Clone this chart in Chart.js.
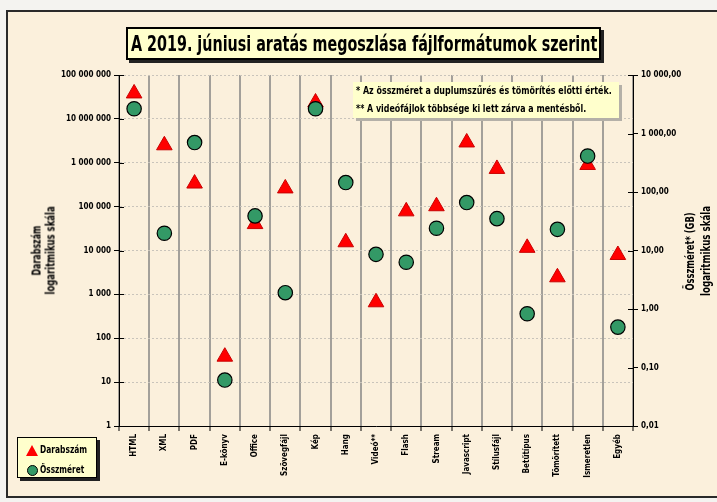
<!DOCTYPE html>
<html>
<head>
<meta charset="utf-8">
<script src="https://cdn.jsdelivr.net/npm/chart.js@4/dist/chart.umd.min.js"></script>
<style>
html,body{margin:0;padding:0;width:717px;height:502px;overflow:hidden;background:#f4f3f0;}
body{position:relative;font-family:'Liberation Sans Narrow','DejaVu Sans Condensed','Arial Narrow',sans-serif;font-weight:bold;color:#000;}
#frame{position:absolute;left:6px;top:10px;width:730px;height:488px;box-sizing:border-box;border:2px solid #2a2a2a;background:#fbf0dc;}
#wrap{position:absolute;left:0;top:0;width:717px;height:502px;}
.fit{white-space:nowrap;display:inline-block;transform-origin:0 50%;}
.fitc{white-space:nowrap;display:inline-block;transform-origin:50% 50%;}
#title{position:absolute;left:126px;top:27px;width:475px;height:33px;box-sizing:border-box;border:2px solid #000;background:#ffffcc;box-shadow:3px 3px 0 #222;font-size:22px;line-height:29px;padding-left:3px;overflow:visible;}
#notes{position:absolute;left:353px;top:82px;width:266px;height:36px;background:#ffffcc;box-shadow:3px 3px 0 #b4b0a8;font-size:11px;line-height:18px;padding-left:3px;box-sizing:border-box;}
#legend{position:absolute;left:17px;top:437px;width:80px;height:41px;box-sizing:border-box;border:1.5px solid #000;background:#ffffcc;box-shadow:3px 3px 0 #222;font-size:11px;}
.lrow{position:absolute;left:0;height:16px;line-height:16px;}
.tri{position:absolute;left:8px;top:3px;width:0;height:0;border-left:6px solid transparent;border-right:6px solid transparent;border-bottom:11px solid #ff0000;}
.cir{position:absolute;left:9px;top:3px;width:9px;height:9px;border:1px solid #000;border-radius:50%;background:#339966;}
.ltxt{position:absolute;left:22px;top:0;}
.atitle{position:absolute;width:200px;text-align:center;font-size:12px;transform:rotate(-90deg);}
</style>
</head>
<body>
<div id="frame"></div>
<div id="wrap"><canvas id="c" width="717" height="502"></canvas></div>
<div id="title"><span class="fit" data-w="466">A 2019. júniusi aratás megoszlása fájlformátumok szerint</span></div>
<div id="notes"><span class="fit" data-w="256">* Az összméret a duplumszűrés és tömörítés előtti érték.</span><br><span class="fit" data-w="230">** A videófájlok többsége ki lett zárva a mentésből.</span></div>
<div id="legend">
  <div class="lrow" style="top:4px;width:78px"><div class="tri"></div><span class="ltxt fit" data-w="47">Darabszám</span></div>
  <div class="lrow" style="top:24px;width:78px"><div class="cir"></div><span class="ltxt fit" data-w="44">Összméret</span></div>
</div>
<div class="atitle" id="lt" style="left:-56.5px;top:236.5px;line-height:13.5px;height:27px;"><span class="fitc" data-w="50">Darabszám</span><br><span class="fitc" data-w="88">logaritmikus skála</span></div>
<div class="atitle" id="rt" style="left:598px;top:235px;line-height:16px;height:32px;"><span class="fitc" data-w="78">Összméret* (GB)</span><br><span class="fitc" data-w="90">logaritmikus skála</span></div>
<script>
// ---- data ----
const categories = ['HTML','XML','PDF','E-könyv','Office','Szövegfájl','Kép','Hang','Videó**','Flash','Stream','Javascript','Stílusfájl','Betűtípus','Tömörített','Ismeretlen','Egyéb'];
const darabszam = [38000000, 2500000, 336000, 38, 40000, 260000, 23600000, 15400, 660, 78000, 102000, 2900000, 723000, 11500, 2450, 890000, 7900];
const osszmeretGB = [2650, 19.7, 700, 0.061, 39, 1.9, 2650, 145, 8.6, 6.3, 24, 66, 35, 0.83, 23, 412, 0.49];
const leftTickValues = [1, 10, 100, 1000, 10000, 100000, 1000000, 10000000, 100000000];
const leftTickLabels = ['1','10','100','1 000','10 000','100 000','1 000 000','10 000 000','100 000 000'];
const rightTickValues = [0.01, 0.1, 1, 10, 100, 1000, 10000];
const rightTickLabels = ['0,01','0,10','1,00','10,00','100,00','1 000,00','10 000,00'];

// fit texts
document.querySelectorAll('.fit, .fitc').forEach(el=>{
  const w = el.offsetWidth;
  const t = +el.dataset.w;
  if (w>0) el.style.transform = 'scaleX(' + (t/w) + ')';
});

const FONT = "'Liberation Sans Narrow','DejaVu Sans Condensed','Arial Narrow',sans-serif";

const innerTicks = {
  id: 'innerTicks',
  beforeDatasetsDraw(chart) {
    const {ctx, chartArea: a, scales} = chart;
    ctx.save();
    ctx.strokeStyle = '#000';
    ctx.lineWidth = 1;
    scales.y.ticks.forEach(t => {
      const y = Math.round(scales.y.getPixelForValue(t.value)) + 0.5;
      ctx.beginPath(); ctx.moveTo(a.left, y); ctx.lineTo(a.left + 5, y); ctx.stroke();
    });
    scales.y1.ticks.forEach(t => {
      const y = Math.round(scales.y1.getPixelForValue(t.value)) + 0.5;
      ctx.beginPath(); ctx.moveTo(a.right - 5, y); ctx.lineTo(a.right, y); ctx.stroke();
    });
    ctx.restore();
  }
};

new Chart(document.getElementById('c'), {
  type: 'line',
  data: {
    labels: categories,
    datasets: [
      {
        label: 'Darabszám',
        data: darabszam,
        yAxisID: 'y',
        showLine: false,
        pointStyle: 'triangle',
        pointRadius: 9,
        pointHoverRadius: 9,
        backgroundColor: '#ff0000',
        borderColor: '#c80000',
        pointBorderWidth: 1,
        order: 2
      },
      {
        label: 'Összméret',
        data: osszmeretGB,
        yAxisID: 'y1',
        showLine: false,
        pointStyle: 'circle',
        pointRadius: 7.2,
        pointHoverRadius: 7.2,
        backgroundColor: '#339966',
        borderColor: '#000',
        pointBorderWidth: 1.2,
        order: 1
      }
    ]
  },
  options: {
    responsive: false,
    animation: false,
    events: [],
    layout: { padding: { top: 75, left: 0, right: 0, bottom: 0 } },
    plugins: { legend: { display: false }, title: { display: false }, tooltip: { enabled: false } },
    scales: {
      x: {
        type: 'category',
        offset: true,
        grid: { offset: true, color: '#a3a09a', lineWidth: 2, tickColor: '#000', tickWidth: 1, tickLength: 5 },
        border: { color: '#000', width: 1 },
        ticks: { minRotation: 90, maxRotation: 90, autoSkip: false, padding: 3, color: '#000', font: { family: FONT, size: 8, weight: 'bold' } },
        afterFit(s) { s.height = 76; }
      },
      y: {
        type: 'logarithmic',
        position: 'left',
        min: 1, max: 100000000,
        afterBuildTicks(s) { s.ticks = leftTickValues.map(v => ({ value: v })); },
        grid: { color: '#c9c4bb', lineWidth: 1, tickColor: '#000', tickLength: 5 },
        border: { color: '#000', width: 1, dash: [2, 2] },
        ticks: {
          padding: 3, color: '#000', font: { family: FONT, size: 8, weight: 'bold' },
          callback: (v) => { const i = leftTickValues.indexOf(v); return i >= 0 ? leftTickLabels[i] : ''; }
        },
        afterFit(s) { s.width = 119; }
      },
      y1: {
        type: 'logarithmic',
        position: 'right',
        min: 0.01, max: 10000,
        afterBuildTicks(s) { s.ticks = rightTickValues.map(v => ({ value: v })); },
        grid: { drawOnChartArea: false, tickColor: '#000', tickLength: 5 },
        border: { color: '#000', width: 1 },
        ticks: {
          padding: 3, color: '#000', font: { family: FONT, size: 8, weight: 'bold' },
          callback: (v) => { const i = rightTickValues.findIndex(x => Math.abs(x - v) < x * 1e-6); return i >= 0 ? rightTickLabels[i] : ''; }
        },
        afterFit(s) { s.width = 84; }
      }
    }
  },
  plugins: [innerTicks]
});
</script>
</body>
</html>
